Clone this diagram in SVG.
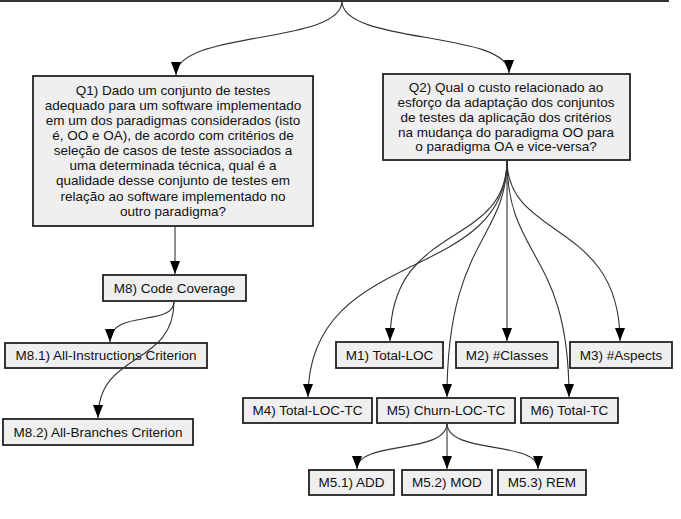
<svg xmlns="http://www.w3.org/2000/svg" width="681" height="519" viewBox="0 0 681 519">
<style>
.box{fill:#efefef;stroke:#222;stroke-width:1.8}
.t{font-family:"Liberation Sans",Arial,sans-serif;font-size:13.5px;fill:#111;text-anchor:middle;dominant-baseline:central}
.c{fill:none;stroke:#333;stroke-width:1.1}
</style>
<defs>
<marker id="ah" markerUnits="userSpaceOnUse" markerWidth="14" markerHeight="14" viewBox="0 0 14 14" refX="13" refY="7" orient="auto">
<path d="M0,2 L13,7 L0,12 Z" fill="#000"/>
</marker>
</defs>
<line x1="0" y1="1" x2="669" y2="1" stroke="#333" stroke-width="2"/>
<g id="Q1">
<rect class="box" x="33" y="76" width="280" height="150"/>
<text class="t" x="173" y="90">Q1) Dado um conjunto de testes</text>
<text class="t" x="173" y="105">adequado para um software implementado</text>
<text class="t" x="173" y="120">em um dos paradigmas considerados (isto</text>
<text class="t" x="173" y="135">é, OO e OA), de acordo com critérios de</text>
<text class="t" x="173" y="150">seleção de casos de teste associados a</text>
<text class="t" x="173" y="165">uma determinada técnica, qual é a</text>
<text class="t" x="173" y="180">qualidade desse conjunto de testes em</text>
<text class="t" x="173" y="196">relação ao software implementado no</text>
<text class="t" x="173" y="211">outro paradigma?</text>
</g>
<g id="Q2">
<rect class="box" x="383" y="74" width="247" height="86"/>
<text class="t" x="506" y="87">Q2) Qual o custo relacionado ao</text>
<text class="t" x="506" y="102">esforço da adaptação dos conjuntos</text>
<text class="t" x="506" y="117">de testes da aplicação dos critérios</text>
<text class="t" x="506" y="132">na mudança do paradigma OO para</text>
<text class="t" x="506" y="146">o paradigma OA e vice-versa?</text>
</g>
<g id="M8"><rect class="box" x="103" y="275" width="143" height="26"/><text class="t" x="174.5" y="288">M8) Code Coverage</text></g>
<g id="M8.1"><rect class="box" x="5" y="343" width="202" height="25"/><text class="t" x="106" y="355.5">M8.1) All-Instructions Criterion</text></g>
<g id="M8.2"><rect class="box" x="3" y="419" width="190" height="26"/><text class="t" x="98" y="432">M8.2) All-Branches Criterion</text></g>
<g id="M1"><rect class="box" x="336" y="342" width="107" height="26"/><text class="t" x="389.5" y="355">M1) Total-LOC</text></g>
<g id="M2"><rect class="box" x="456" y="342" width="102" height="26"/><text class="t" x="507" y="355">M2) #Classes</text></g>
<g id="M3"><rect class="box" x="570" y="342" width="102" height="26"/><text class="t" x="621" y="355">M3) #Aspects</text></g>
<g id="M4"><rect class="box" x="243" y="398" width="129" height="25"/><text class="t" x="307.5" y="410.5">M4) Total-LOC-TC</text></g>
<g id="M5"><rect class="box" x="377" y="398" width="138" height="25"/><text class="t" x="446" y="410.5">M5) Churn-LOC-TC</text></g>
<g id="M6"><rect class="box" x="521" y="398" width="97" height="25"/><text class="t" x="569.5" y="410.5">M6) Total-TC</text></g>
<g id="M5.1"><rect class="box" x="309" y="470" width="85" height="25"/><text class="t" x="351.5" y="482.5">M5.1) ADD</text></g>
<g id="M5.2"><rect class="box" x="402" y="470" width="90" height="25"/><text class="t" x="447" y="482.5">M5.2) MOD</text></g>
<g id="M5.3"><rect class="box" x="498" y="470" width="88" height="25"/><text class="t" x="542" y="482.5">M5.3) REM</text></g>
<g id="connectors">
<path class="c" d="M342,1 C342,45 176,30 176,75" marker-end="url(#ah)"/>
<path class="c" d="M342,1 C342,45 509,30 509,73" marker-end="url(#ah)"/>
<path class="c" d="M175,226 L175,274" marker-end="url(#ah)"/>
<path class="c" d="M174,301 C174,328 110,308 110,342" marker-end="url(#ah)"/>
<path class="c" d="M174,301 C174,368 98,350 98,418" marker-end="url(#ah)"/>
<path class="c" d="M507,160 C507,250 390,220 390,341" marker-end="url(#ah)"/>
<path class="c" d="M507,160 L507,341" marker-end="url(#ah)"/>
<path class="c" d="M507,160 C507,240 620,220 620,341" marker-end="url(#ah)"/>
<path class="c" d="M507,160 C507,285 308,245 308,397" marker-end="url(#ah)"/>
<path class="c" d="M507,160 C507,240 447,240 447,397" marker-end="url(#ah)"/>
<path class="c" d="M507,160 C507,260 569,250 569,397" marker-end="url(#ah)"/>
<path class="c" d="M447,423 C447,455 357,440 357,469" marker-end="url(#ah)"/>
<path class="c" d="M447,423 L447,469" marker-end="url(#ah)"/>
<path class="c" d="M447,423 C447,455 538,440 538,469" marker-end="url(#ah)"/>
</g>
</svg>
